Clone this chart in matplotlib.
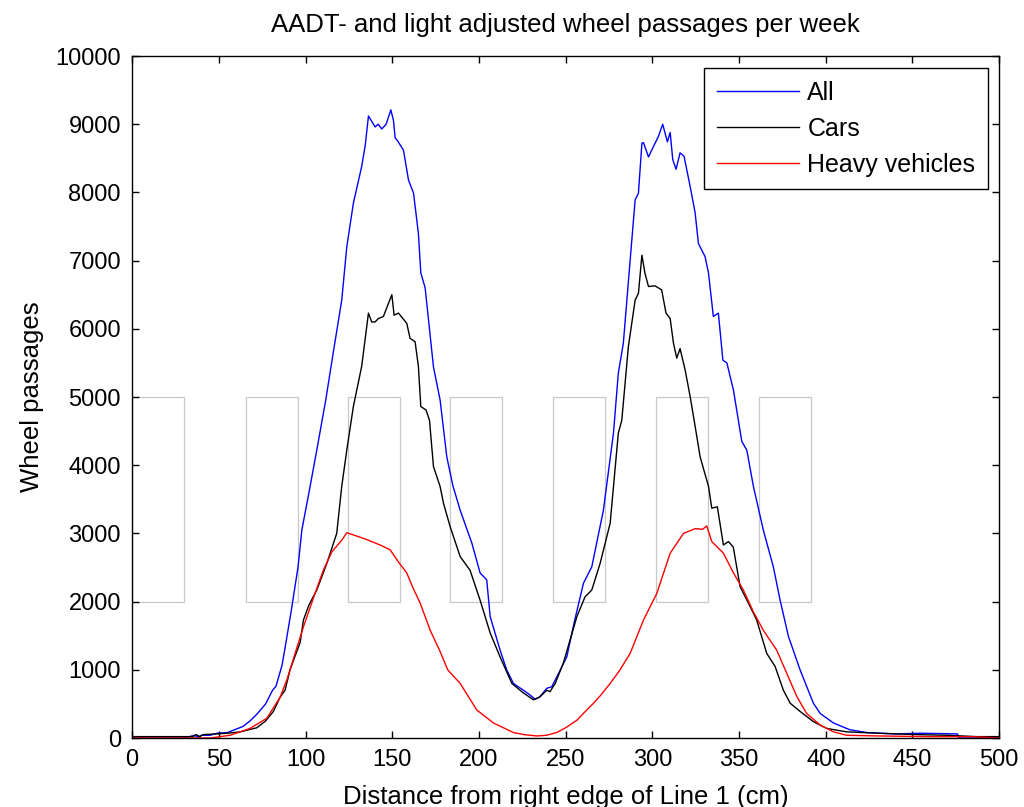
import matplotlib
matplotlib.use("Agg")
import matplotlib.pyplot as plt
from matplotlib.patches import Rectangle

plt.rcParams['font.family'] = ['Liberation Sans', 'DejaVu Sans']

#%% Data
all_x = [0, 30, 36, 38, 40, 45, 49, 55, 64, 68,
         72, 77, 81, 83, 86.5, 89, 92, 95.7, 97.9, 102,
         106.5, 111.7, 116, 120.9, 123.8, 127.6, 132.4, 134.5, 136.3, 138,
         140.1, 141.9, 144, 146.5, 149.2, 150.7, 151.7, 153, 156.5, 159.4,
         162.3, 165.1, 166.5, 169, 173.8, 177.6, 181.5, 185, 189.2, 195.9,
         200.7, 204.5, 206.5, 212.2, 216, 219.9, 225.7, 229, 232.4, 235,
         239.2, 242, 246, 250.7, 255, 260.3, 265.1, 271.8, 277.6, 280.4,
         283.3, 287.2, 290.1, 292, 294, 294.9, 297.8, 300.6, 303.5, 306,
         308.7, 310.3, 311.8, 313.7, 316, 318.3, 319.5, 321.8, 324.7, 326.6,
         330.4, 332.4, 335.2, 338.1, 340.7, 343, 346.8, 351.6, 354.5, 358.3,
         364, 369.8, 373.7, 378.5, 385.2, 392.9, 396.8, 404.5, 414, 423.7,
         440, 455, 476, 477, 500]
all_y = [0, 0, 40, 10, 40, 40, 70, 80, 170, 250,
         350, 500, 700, 760, 1070, 1440, 1900, 2510, 3050, 3600,
         4220, 4960, 5650, 6420, 7200, 7840, 8380, 8700, 9120, 9050,
         8960, 9000, 8930, 9000, 9210, 9060, 8800, 8760, 8620, 8180,
         7990, 7400, 6820, 6600, 5440, 4960, 4120, 3700, 3340, 2860,
         2420, 2320, 1780, 1290, 1000, 800, 700, 640, 570, 600,
         730, 750, 950, 1190, 1700, 2270, 2510, 3340, 4470, 5350,
         5790, 7000, 7890, 7990, 8720, 8730, 8520, 8670, 8820, 9000,
         8740, 8880, 8480, 8340, 8580, 8530, 8380, 8090, 7700, 7250,
         7060, 6820, 6180, 6230, 5540, 5500, 5100, 4350, 4220, 3690,
         3050, 2510, 2020, 1490, 1000, 510, 360, 220, 120, 80,
         60, 70, 60, 0, 0]

cars_x = [0, 35, 37, 39, 41, 48.8, 55, 62.3, 71.9, 77,
          81.5, 85.4, 88.2, 91.1, 96.9, 98.8, 102, 106.5, 112.3, 118,
          120.9, 123.8, 127.6, 132.4, 136.3, 138.2, 140.1, 142, 144.9, 147.8,
          149.8, 151.1, 153.6, 158.4, 160.3, 163.2, 165.1, 166.5, 169.5, 171.5,
          173.8, 177.6, 179.6, 183.4, 189.2, 194.9, 200.7, 206.5, 212.2, 219,
          225.7, 231.5, 235, 239.2, 241, 244, 248.7, 256.5, 261.2, 265.1,
          269.9, 275.7, 280.4, 282.4, 286.2, 290.1, 292, 294, 295.8, 297.8,
          301.6, 305.4, 307.9, 310.3, 312.2, 314.1, 316, 318.9, 321.8, 324.7,
          327.6, 332.4, 334.3, 337.5, 341, 343.9, 346.7, 350.6, 355.4, 360.2,
          366, 370.8, 375.6, 379.5, 385.2, 392.9, 400.6, 412.1, 430, 452.5,
          470, 487, 500]
cars_y = [20, 20, 50, 20, 50, 60, 70, 90, 150, 250,
          390, 600, 700, 1000, 1400, 1730, 1950, 2170, 2560, 3000,
          3690, 4220, 4860, 5450, 6230, 6100, 6100, 6150, 6180, 6370,
          6500, 6200, 6230, 6080, 5860, 5810, 5450, 4860, 4810, 4660,
          3980, 3690, 3440, 3100, 2660, 2460, 2020, 1540, 1190, 800,
          660, 560, 600, 700, 680, 800, 1100, 1780, 2070, 2170,
          2560, 3150, 4470, 4660, 5740, 6420, 6520, 7080, 6810, 6620,
          6630, 6570, 6230, 6150, 5790, 5570, 5710, 5400, 5010, 4570,
          4120, 3690, 3370, 3390, 2830, 2880, 2800, 2220, 1980, 1730,
          1240, 1050, 700, 510, 390, 240, 140, 90, 70, 50,
          40, 20, 20]

heavy_x = [0, 45, 56.5, 68, 77.7, 85.4, 89.2, 94, 98.8, 105.5,
           110.3, 115.2, 120.9, 123.8, 129.6, 135.3, 143, 148.8, 153.6, 158.4,
           162, 166.1, 171.9, 177.6, 182, 189.2, 198.8, 208.4, 219.9, 226,
           233.4, 239, 244.9, 250, 256.5, 261, 266.1, 270, 275.7, 281.4,
           287.2, 294.9, 302.6, 310.3, 318, 324.7, 329, 331.4, 334.3, 341,
           346.8, 352.5, 358.3, 364, 371.7, 377.5, 383.3, 389, 396.8, 404.5,
           412.1, 430, 460, 485, 500]
heavy_y = [0, 0, 40, 140, 290, 600, 850, 1240, 1630, 2120,
           2460, 2730, 2900, 3010, 2960, 2910, 2830, 2760, 2580, 2420,
           2200, 1980, 1580, 1270, 1000, 800, 410, 220, 80, 50,
           30, 40, 80, 150, 260, 380, 510, 620, 800, 1000,
           1240, 1730, 2120, 2710, 3000, 3070, 3060, 3110, 2880, 2710,
           2420, 2170, 1850, 1580, 1290, 950, 610, 360, 190, 90,
           40, 30, 20, 20, 0]

# wheel track boxes (left edge, width) in cm, between 2000 and 5000
box_left = [0, 65.5, 124.5, 183.5, 242.5, 302, 361.4]
box_width = 30
box_low, box_high = 2000, 5000

#%% Plot
fig = plt.figure(figsize=(10.24, 8.07), dpi=100)
ax = fig.add_axes([0.129, 0.0855, 0.8467, 0.8451])

for b in box_left:
    ax.add_patch(Rectangle((b, box_low), box_width, box_high - box_low,
                           fill=False, edgecolor='#c8c8c8', linewidth=0.9))

ax.plot(all_x, all_y, color='#0000ff', linewidth=1.0, label='All')
ax.plot(cars_x, cars_y, color='black', linewidth=1.0, label='Cars')
ax.plot(heavy_x, heavy_y, color='#ff0000', linewidth=1.0, label='Heavy vehicles')

ax.set_xlim(0, 500)
ax.set_ylim(0, 10000)
ax.set_xticks(range(0, 501, 50))
ax.set_yticks(range(0, 10001, 1000))
ax.tick_params(direction='in', top=True, right=True, length=5, width=1,
               labelsize=17, pad=8)
for s in ax.spines.values():
    s.set_linewidth(1.0)

ax.set_title('AADT- and light adjusted wheel passages per week', fontsize=18.5, pad=17)
ax.set_xlabel('Distance from right edge of Line 1 (cm)', fontsize=18.5, labelpad=10)
ax.set_ylabel('Wheel passages', fontsize=18.5, labelpad=8)

leg = ax.legend(loc='upper right', bbox_to_anchor=(0.987, 0.982), fontsize=18,
                fancybox=False, edgecolor='black', framealpha=1,
                handlelength=3.3, handletextpad=0.32, borderaxespad=0,
                labelspacing=0.48, borderpad=0.5)
leg.get_frame().set_linewidth(1.0)

fig.savefig('out.png', dpi=100)
